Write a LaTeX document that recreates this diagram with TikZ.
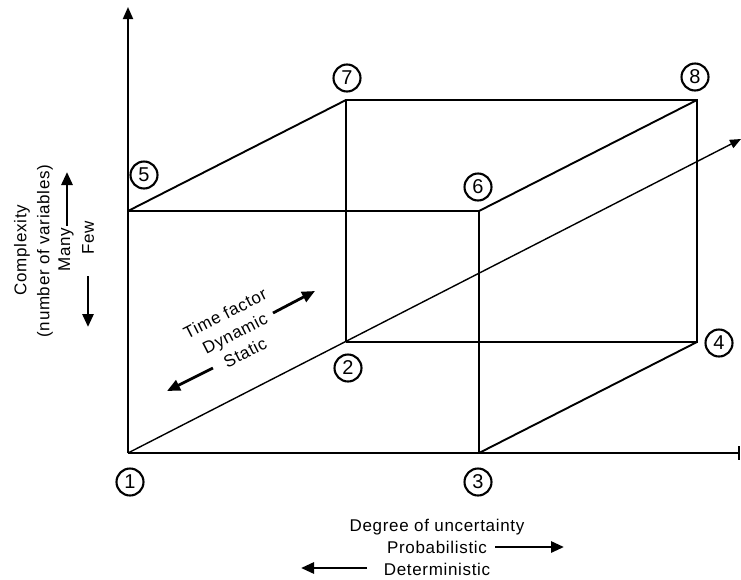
\documentclass[tikz,border=0pt]{standalone}
\usepackage{fontspec}
\setmainfont{Liberation Sans}
\newfontfamily\labfont[LetterSpace=4]{Liberation Sans}
\usetikzlibrary{arrows.meta}
\begin{document}
\begin{tikzpicture}[x=1pt,y=-1pt,
  edge/.style={line width=1.9pt},
  axis/.style={line width=1.9pt},
  num/.style={draw, circle, line width=2.1pt, minimum size=27pt, inner sep=0pt, font=\fontsize{20}{20}\selectfont},
  lbl/.style={font=\labfont\fontsize{17}{22}\selectfont, inner sep=0pt},
  arr/.style={line width=2.8pt, -{Triangle[length=13pt,width=11pt]}}
]
\useasboundingbox (0,0) rectangle (741,579);
% vertices
\coordinate (v1) at (128,453);
\coordinate (v2) at (346,342);
\coordinate (v3) at (479,453);
\coordinate (v4) at (697,342);
\coordinate (v5) at (128,211);
\coordinate (v6) at (479,211);
\coordinate (v7) at (346,100);
\coordinate (v8) at (697,100);
\coordinate (ytop) at (128,7);
\coordinate (xend) at (740,453);
\coordinate (dend) at (741,139);
% axes
\draw[axis, -{Triangle[length=12pt,width=10pt]}] (v1) -- (ytop);
\draw[axis, -{Bar[width=14pt,line width=2pt]}] (v1) -- (xend);
\draw[line width=1.4pt, -{Triangle[length=11pt,width=9pt]}] (v1) -- (dend);
% cube
\draw[edge] (v5) -- (v6) -- (v3);
\draw[edge] (v2) -- (v4) -- (v8) -- (v7) -- (v2);
\draw[edge] (v5) -- (v7);
\draw[edge] (v6) -- (v8);
\draw[edge] (v3) -- (v4);
% numbers
\node[num] (n1) at (130,482) {1};
\node[num] (n2) at (348,368) {2};
\node[num] (n3) at (478,482) {3};
\node[num] (n4) at (719,343) {4};
\node[num] (n5) at (144,175) {5};
\node[num] (n6) at (478,187) {6};
\node[num] (n7) at (347,78) {7};
\node[num] (n8) at (695,77) {8};
% left labels
\node[lbl, rotate=90] (cx) at (22,250) {Complexity};
\node[lbl, rotate=90] (nv) at (45,251) {(number of variables)};
\node[lbl, rotate=90] (many) at (66,250) {Many};
\node[lbl, rotate=90] (few) at (88,238) {Few};
\coordinate (mA) at (67,226);
\coordinate (mB) at (67,172);
\coordinate (fA) at (88,276);
\coordinate (fB) at (88,327);
\draw[arr] (mA) -- (mB);
\draw[arr] (fA) -- (fB);
% time factor
\node[lbl, rotate=27, align=center] (tf) at (235,333) {Time factor\\Dynamic\\Static};
\coordinate (tA) at (273,313);
\coordinate (tB) at (315,291);
\coordinate (sA) at (213,368);
\coordinate (sB) at (167,391);
\draw[arr] (tA) -- (tB);
\draw[arr] (sA) -- (sB);
% bottom labels
\node[lbl, align=center] (deg) at (437,547) {Degree of uncertainty\\Probabilistic\\Deterministic};
\coordinate (pA) at (495,547);
\coordinate (pB) at (564,547);
\coordinate (dA) at (367,568);
\coordinate (dB) at (301,568);
\draw[arr] (pA) -- (pB);
\draw[arr] (dA) -- (dB);
\end{tikzpicture}
\end{document}
